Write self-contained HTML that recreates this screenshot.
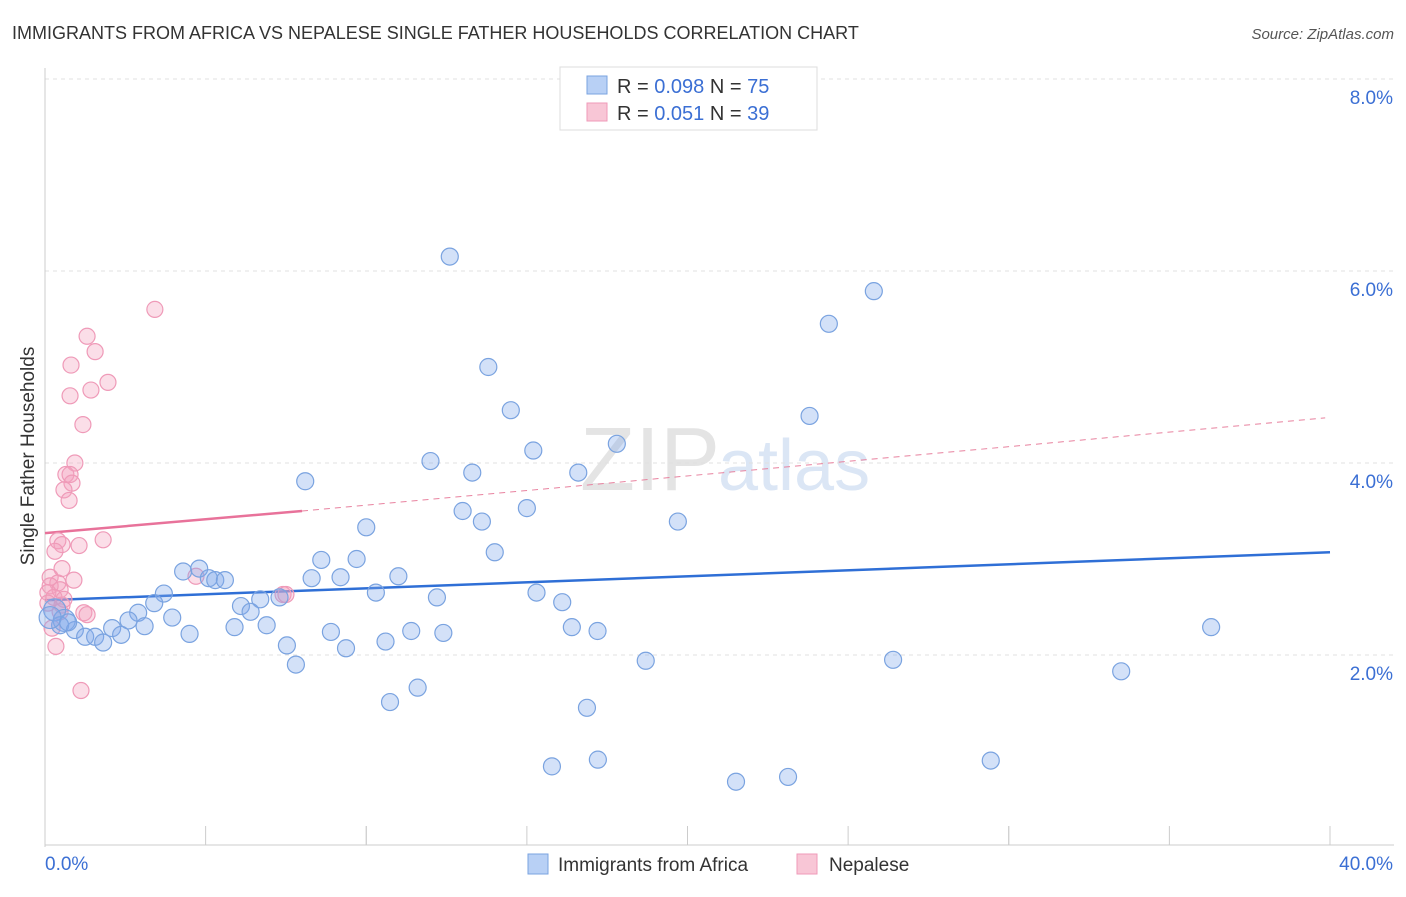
<!DOCTYPE html>
<html><head><meta charset="utf-8"><style>
body{margin:0;background:#fff;font-family:"Liberation Sans",sans-serif;}
svg text{font-family:"Liberation Sans",sans-serif;}
</style></head><body>
<svg id="c" width="1406" height="892" xmlns="http://www.w3.org/2000/svg">
<text x="12" y="39" font-size="18" fill="#333">IMMIGRANTS FROM AFRICA VS NEPALESE SINGLE FATHER HOUSEHOLDS CORRELATION CHART</text>
<text x="1394" y="39" font-size="15" fill="#555" text-anchor="end" font-style="italic">Source: ZipAtlas.com</text>
<text x="720" y="490" font-size="90" fill="#e4e4e4" text-anchor="end" font-family="Liberation Serif">ZIP</text>
<text x="718" y="490" font-size="72" fill="#dbe6f5">atlas</text>
<g id="grid"></g><g id="axes"></g><g id="trend"></g><g id="pts"></g>
<text transform="translate(34,456) rotate(-90)" font-size="19" fill="#333" text-anchor="middle">Single Father Households</text>
<g>
<rect x="560" y="67" width="257" height="63" fill="#fff" stroke="#ddd"/>
<rect x="587" y="76" width="20" height="18" fill="#b8d0f5" stroke="#7aa3e0"/>
<rect x="587" y="103" width="20" height="18" fill="#f8c6d6" stroke="#ef9ab8"/>
<text x="617" y="93" font-size="20" fill="#333">R = <tspan fill="#3b6fd4">0.098</tspan>   N = <tspan fill="#3b6fd4">75</tspan></text>
<text x="617" y="120" font-size="20" fill="#333">R =  <tspan fill="#3b6fd4">0.051</tspan>   N = <tspan fill="#3b6fd4">39</tspan></text>
</g>
<g>
<rect x="528" y="854" width="20" height="20" fill="#b8d0f5" stroke="#7aa3e0"/>
<text x="558" y="871" font-size="19" fill="#333">Immigrants from Africa</text>
<rect x="797" y="854" width="20" height="20" fill="#f8c6d6" stroke="#ef9ab8"/>
<text x="829" y="871" font-size="19" fill="#333">Nepalese</text>
</g>
</svg>
<script>
const xTicks=[0,5,10,15,20,25,30,35,40];
const yTicks=[2,4,6,8];
const blueX=[12.6,25.8,24.4,13.8,14.5,23.8,17.8,15.2,12.0,13.3,16.6,8.1,13.0,15.0,13.6,19.7,10.0,14.0,8.6,9.7,4.3,4.8,5.1,5.3,5.6,8.3,9.2,11.0,3.7,3.4,6.7,7.3,10.3,12.2,15.3,16.1,6.1,6.4,2.9,2.6,3.96,3.1,5.9,6.9,8.9,11.4,12.4,16.4,17.2,36.3,0.3,0.6,0.47,0.93,1.25,1.56,1.81,2.09,2.37,4.5,7.53,9.37,10.6,7.81,18.7,26.4,33.5,11.6,10.74,16.87,15.78,17.21,21.51,23.13,29.44,0.16,0.72];
const blueY=[6.15,5.79,5.45,5.0,4.55,4.49,4.2,4.13,4.02,3.9,3.9,3.81,3.5,3.53,3.39,3.39,3.33,3.07,2.99,3.0,2.87,2.9,2.8,2.78,2.78,2.8,2.81,2.82,2.64,2.54,2.58,2.6,2.65,2.6,2.65,2.55,2.51,2.45,2.44,2.36,2.39,2.3,2.29,2.31,2.24,2.25,2.23,2.29,2.25,2.29,2.47,2.36,2.31,2.26,2.19,2.19,2.13,2.28,2.21,2.22,2.1,2.07,2.14,1.9,1.94,1.95,1.83,1.66,1.51,1.45,0.84,0.91,0.68,0.73,0.9,2.39,2.34];
const pinkX=[3.42,1.31,1.56,0.81,1.96,1.43,0.78,1.18,0.93,0.65,0.78,0.84,0.59,0.75,1.81,0.4,0.53,1.06,0.31,0.53,0.16,0.9,0.4,0.16,0.47,0.09,0.28,0.09,0.53,1.21,1.31,0.22,0.34,1.12,4.7,7.41,7.5,0.47,0.59];
const pinkY=[5.6,5.32,5.16,5.02,4.84,4.76,4.7,4.4,4.0,3.88,3.88,3.79,3.72,3.61,3.2,3.19,3.15,3.14,3.08,2.9,2.81,2.78,2.75,2.72,2.68,2.65,2.6,2.54,2.52,2.44,2.42,2.28,2.09,1.63,2.82,2.63,2.63,2.45,2.58];
const X0=45,X1=1330,YB=847,PY=96;
const sx=v=>X0+(X1-X0)*v/40, sy=v=>YB-v*PY;
const NS="http://www.w3.org/2000/svg";
function mk(p,t,a){const e=document.createElementNS(NS,t);for(const k in a)e.setAttribute(k,a[k]);p.appendChild(e);return e;}
const g=document.getElementById('grid'),ax=document.getElementById('axes'),tr=document.getElementById('trend'),pts=document.getElementById('pts');
yTicks.forEach(v=>{const l=mk(g,'line',{x1:X0,x2:1394,y1:sy(v),y2:sy(v),stroke:'#e0e0e0','stroke-dasharray':'4,4'});

const t=mk(ax,'text',{x:1393,y:sy(v)+25,'font-size':19,fill:'#3b6fd4','text-anchor':'end'});t.textContent=v.toFixed(1)+'%';
});
let al=mk(ax,'line',{x1:X0,x2:X0,y1:68,y2:YB,stroke:'#ccc'});
al=mk(ax,'line',{x1:X0,x2:1394,y1:845,y2:845,stroke:'#ccc'});
xTicks.forEach((v,i)=>{const l=mk(ax,'line',{x1:sx(v),x2:sx(v),y1:826,y2:845,stroke:'#ccc'});
 if(i%2==0){const m=mk(ax,'line',{x1:sx(v)+(i?0:0),x2:sx(v),y1:826,y2:845,stroke:'#ccc'});}});
[[0,'0.0%','start',45],[40,'40.0%','end',1393]].forEach(d=>{const t=mk(ax,'text',{x:d[3],y:870,'font-size':19,fill:'#3b6fd4','text-anchor':d[2]});t.textContent=d[1];
});
let t1=mk(tr,'line',{x1:sx(0),y1:sy(2.57),x2:sx(40),y2:sy(3.07),stroke:'#2f6fd6','stroke-width':2.5});
let t2=mk(tr,'line',{x1:sx(8),y1:sy(3.5),x2:sx(39.85),y2:sy(4.47),stroke:'#e8829f','stroke-width':1,'stroke-dasharray':'6,5'});
let t3=mk(tr,'line',{x1:sx(0),y1:sy(3.27),x2:sx(8),y2:sy(3.5),stroke:'#e8729a','stroke-width':2.5});
pinkX.forEach((v,i)=>{const c=mk(pts,'circle',{cx:sx(v),cy:sy(pinkY[i]),r:8,fill:'rgba(244,160,190,0.35)',stroke:'#ef9ab8','stroke-width':1.2});
});
blueX.forEach((v,i)=>{const c=mk(pts,'circle',{cx:sx(v),cy:sy(blueY[i]),r:(i>=50&&i<52)||i==75?11:8.5,fill:'rgba(130,170,235,0.35)',stroke:'#7aa3e0','stroke-width':1.2});
});
</script>
</body></html>
